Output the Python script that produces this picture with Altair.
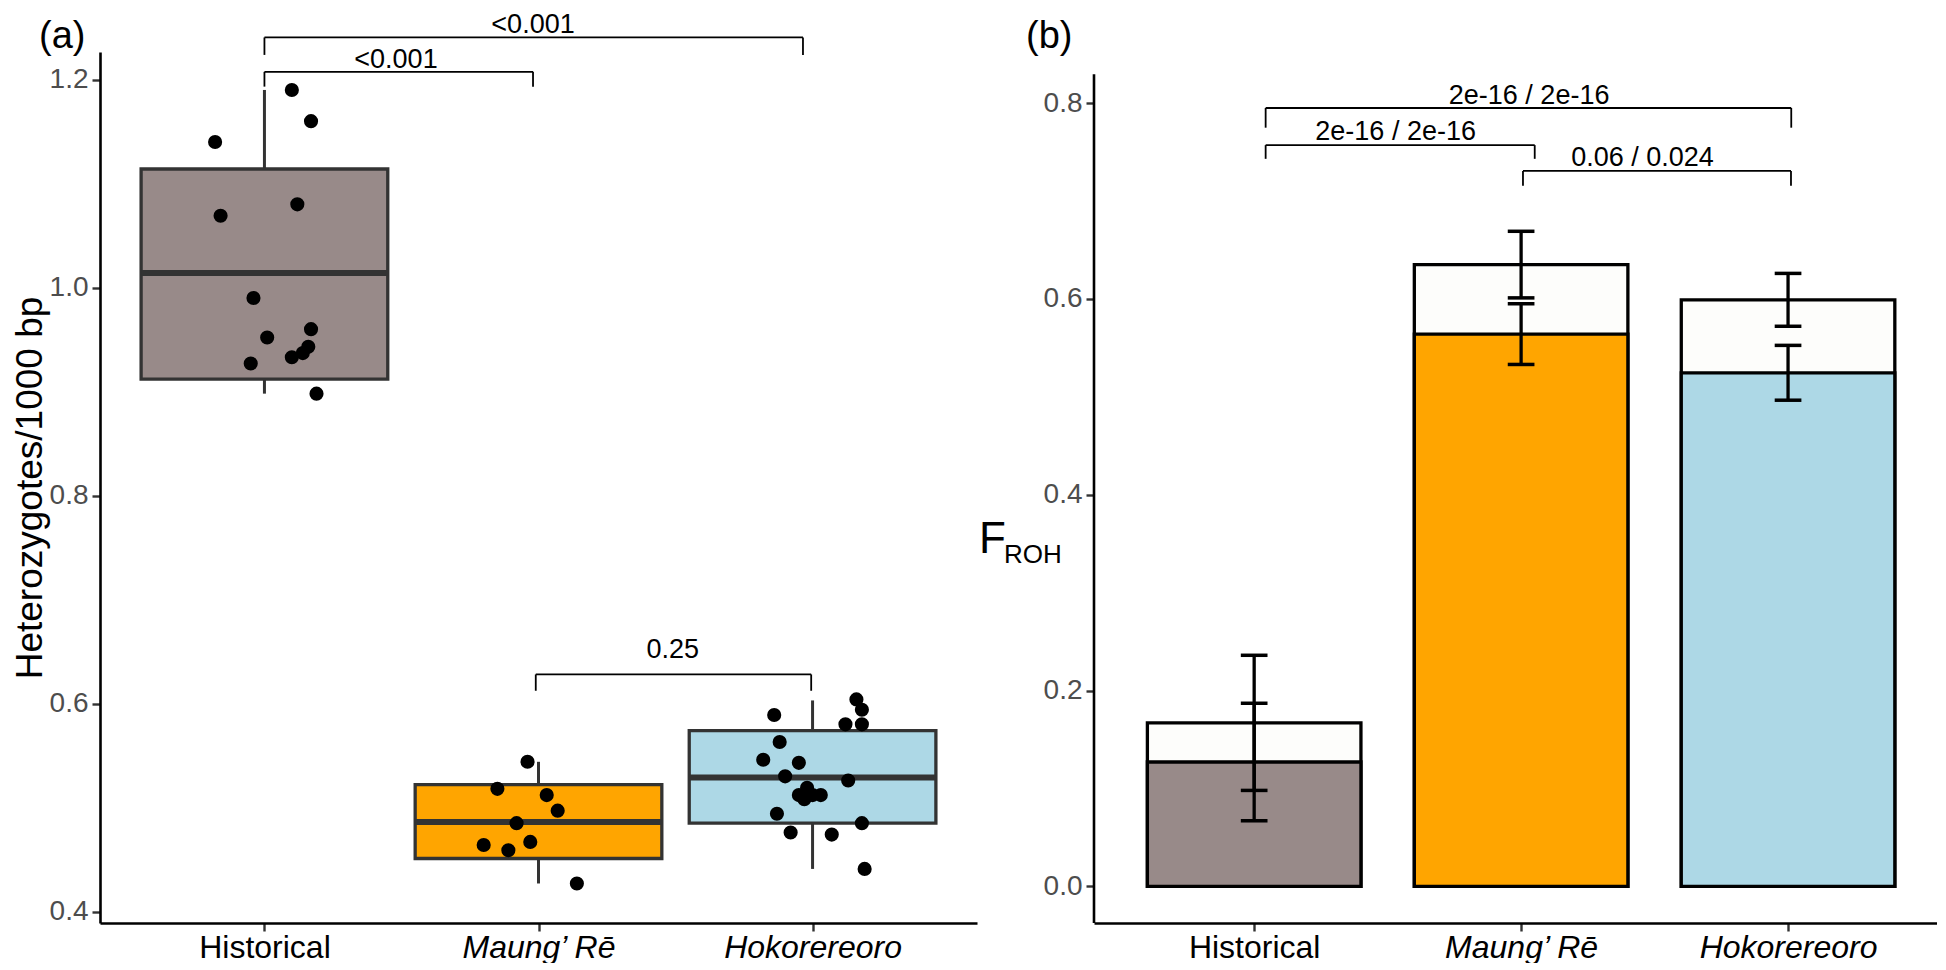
import json
import altair as alt
import pandas as pd

FONT = "Liberation Sans"

# ---------------- shared categories ----------------
groups = ["Historical", "Maung’ Rē", "Hokorereoro"]
fill_colors = ["#988A89", "#FFA500", "#ADD8E6"]
positions = list(range(1, len(groups) + 1))

# ---------------- panel (a): heterozygosity ----------------
box_lower_whisker = [0.898, 0.427, 0.441]
box_q1 = [0.912, 0.451, 0.485]
box_median = [1.014, 0.486, 0.529]
box_q3 = [1.114, 0.522, 0.574]
box_upper_whisker = [1.190, 0.544, 0.603]

hist_het = [1.190, 1.160, 1.140, 1.080, 1.069, 0.990, 0.960, 0.952, 0.943, 0.937, 0.933, 0.927, 0.898]
hist_jitter = [0.10, 0.17, -0.18, 0.12, -0.16, -0.04, 0.17, 0.01, 0.16, 0.14, 0.10, -0.05, 0.19]
maung_het = [0.544, 0.518, 0.512, 0.497, 0.485, 0.467, 0.464, 0.459, 0.427]
maung_jitter = [-0.04, -0.15, 0.03, 0.07, -0.08, -0.03, -0.20, -0.11, 0.14]
hoko_het = [0.604, 0.594, 0.589, 0.580, 0.580, 0.563, 0.546, 0.543, 0.530, 0.526,
            0.519, 0.512, 0.508, 0.512, 0.512, 0.494, 0.485, 0.476, 0.474, 0.441]
hoko_jitter = [0.16, 0.18, -0.14, 0.12, 0.18, -0.12, -0.18, -0.05, -0.10, 0.13,
               -0.02, -0.05, -0.03, 0.00, 0.03, -0.13, 0.18, -0.08, 0.07, 0.19]

a_br_label = ["<0.001", "<0.001", "0.25"]
a_br_from = [1.0, 1.0, 1.99]
a_br_to = [1.98, 2.965, 2.995]
a_br_y = [1.2074, 1.2405, 0.628]
a_br_tip = [1.1932, 1.2237, 0.6123]
a_lab_x = [1.48, 1.98, 2.49]
a_lab_y = [1.2112, 1.2443, 0.644]

a_yticks = [0.4, 0.6, 0.8, 1.0, 1.2]
a_ydomain = [0.389, 1.2265]

# ---------------- panel (b): F_ROH ----------------
froh_total = [0.167, 0.635, 0.599]
froh_total_err = [0.069, 0.034, 0.027]
froh_part = [0.127, 0.564, 0.5245]
froh_part_err = [0.060, 0.031, 0.028]

b_br_label = ["2e-16 / 2e-16", "2e-16 / 2e-16", "0.06 / 0.024"]
b_br_from = [1.043, 1.043, 2.007]
b_br_to = [3.012, 2.051, 3.011]
b_br_y = [0.7949, 0.757, 0.7306]
b_br_tip = [0.7748, 0.743, 0.7156]
b_lab_x = [2.03, 1.53, 2.455]
b_lab_y = [0.7992, 0.7624, 0.7356]

b_yticks = [0.0, 0.2, 0.4, 0.6, 0.8]
b_ydomain = [-0.0374, 0.8521]
b_axis_top = 0.8294

panel_tags = ["(a)", "(b)"]

# ---------------- helpers ----------------
label_expr = json.dumps(groups, ensure_ascii=False) + "[datum.value - 1]"
italic_cond = {"condition": {"test": "datum.value > 1", "value": "italic"}, "value": "normal"}


def x_axis():
    return alt.Axis(values=positions, labelExpr=label_expr, title=None, grid=False,
                    domain=True, domainColor="black", domainWidth=2.6,
                    ticks=True, tickColor="#333333", tickWidth=2.4, tickSize=8,
                    labelFontSize=32, labelColor="black", labelFont=FONT,
                    labelPadding=1, labelFontStyle=italic_cond, labelAngle=0)


def y_axis(values, title, domain):
    kw = dict(values=values, format=".1f", grid=False, domain=domain,
              domainColor="black", domainWidth=2.6, tickColor="#333333",
              tickWidth=2.4, tickSize=8, labelFontSize=28, labelColor="#4D4D4D",
              labelPadding=4, labelFont=FONT)
    if title:
        kw.update(title=title, titleFontSize=37, titleFont=FONT, titleColor="black",
                  titleFontWeight="normal", titlePadding=0)
    else:
        kw.update(title=None)
    return alt.Axis(**kw)


def bracket_df(x1s, x2s, ys, tips):
    rows = []
    for x1, x2, y, t in zip(x1s, x2s, ys, tips):
        rows.append(dict(x=x1, x2=x2, y=y, y2=y))
        rows.append(dict(x=x1, x2=x1, y=y, y2=t))
        rows.append(dict(x=x2, x2=x2, y=y, y2=t))
    return pd.DataFrame(rows)


def tag_layer(tag, dx):
    return alt.Chart(pd.DataFrame({"t": [tag]})).mark_text(
        fontSize=38, font=FONT, color="black", align="left", baseline="alphabetic").encode(
        text="t:N", x=alt.value(dx), y=alt.value(-4))


fill_scale = alt.Scale(domain=groups, range=fill_colors)

# ---------------- panel (a) ----------------
XA = alt.Scale(domain=[0.4, 3.6], nice=False, zero=False)
YA = alt.Scale(domain=a_ydomain, nice=False, zero=False)
xa_axis = x_axis()
ya_axis = y_axis(a_yticks, "Heterozygotes/1000 bp", True)

box_df = pd.DataFrame({
    "pos": positions, "group": groups, "lo": box_lower_whisker, "q1": box_q1,
    "med": box_median, "q3": box_q3, "hi": box_upper_whisker,
})

pts = []
for p, vals, jit in zip(positions, [hist_het, maung_het, hoko_het],
                        [hist_jitter, maung_jitter, hoko_jitter]):
    for v, j in zip(vals, jit):
        pts.append(dict(pos=p, jit=j, het=v))
pts_df = pd.DataFrame(pts)

base_box = alt.Chart(box_df).transform_calculate(
    left="datum.pos - 0.45", right="datum.pos + 0.45")

whisk_up = base_box.mark_rule(color="#333333", strokeWidth=3).encode(
    x=alt.X("pos:Q", scale=XA, axis=xa_axis),
    y=alt.Y("q3:Q", scale=YA, axis=ya_axis), y2="hi:Q")
whisk_lo = base_box.mark_rule(color="#333333", strokeWidth=3).encode(
    x=alt.X("pos:Q", scale=XA, axis=xa_axis),
    y=alt.Y("lo:Q", scale=YA, axis=ya_axis), y2="q1:Q")
boxes = base_box.mark_rect(stroke="#333333", strokeWidth=3.3).encode(
    x=alt.X("left:Q", scale=XA, axis=xa_axis), x2="right:Q",
    y=alt.Y("q1:Q", scale=YA, axis=ya_axis), y2="q3:Q",
    fill=alt.Fill("group:N", scale=fill_scale, legend=None))
medians = base_box.mark_rule(color="#333333", strokeWidth=6).encode(
    x=alt.X("left:Q", scale=XA, axis=xa_axis), x2="right:Q",
    y=alt.Y("med:Q", scale=YA, axis=ya_axis))
points = alt.Chart(pts_df).transform_calculate(px="datum.pos + datum.jit").mark_circle(
    size=200, color="black", opacity=1).encode(
    x=alt.X("px:Q", scale=XA, axis=xa_axis),
    y=alt.Y("het:Q", scale=YA, axis=ya_axis))

a_seg = alt.Chart(bracket_df(a_br_from, a_br_to, a_br_y, a_br_tip)).mark_rule(
    color="black", strokeWidth=1.8).encode(
    x=alt.X("x:Q", scale=XA, axis=xa_axis), x2="x2:Q",
    y=alt.Y("y:Q", scale=YA, axis=ya_axis), y2="y2:Q")
a_txt = alt.Chart(pd.DataFrame({"x": a_lab_x, "y": a_lab_y, "t": a_br_label})).mark_text(
    fontSize=27, font=FONT, color="black", align="center", baseline="alphabetic").encode(
    x=alt.X("x:Q", scale=XA, axis=xa_axis),
    y=alt.Y("y:Q", scale=YA, axis=ya_axis), text="t:N")

panel_a = alt.layer(whisk_up, whisk_lo, boxes, medians, points, a_seg, a_txt,
                    tag_layer(panel_tags[0], -61)).properties(width=877, height=871)

# ---------------- panel (b) ----------------
XB = alt.Scale(domain=[0.4, 3.558], nice=False, zero=False)
YB = alt.Scale(domain=b_ydomain, nice=False, zero=False)
xb_axis = x_axis()
yb_axis = y_axis(b_yticks, None, False)

bar_df = pd.DataFrame({"pos": positions, "group": groups,
                       "total": froh_total, "part": froh_part})
bar_base = alt.Chart(bar_df).transform_calculate(
    left="datum.pos - 0.4", right="datum.pos + 0.4", zero="0")

total_bars = bar_base.mark_rect(fill="#FDFDFB", stroke="black", strokeWidth=3.3).encode(
    x=alt.X("left:Q", scale=XB, axis=xb_axis), x2="right:Q",
    y=alt.Y("zero:Q", scale=YB, axis=yb_axis), y2="total:Q")
part_bars = bar_base.mark_rect(stroke="black", strokeWidth=3.3).encode(
    x=alt.X("left:Q", scale=XB, axis=xb_axis), x2="right:Q",
    y=alt.Y("zero:Q", scale=YB, axis=yb_axis), y2="part:Q",
    fill=alt.Fill("group:N", scale=fill_scale, legend=None))

err_rows = []
for p, c, e in zip(positions, froh_total, froh_total_err):
    err_rows.append(dict(pos=p, center=c, err=e))
for p, c, e in zip(positions, froh_part, froh_part_err):
    err_rows.append(dict(pos=p, center=c, err=e))
err_base = alt.Chart(pd.DataFrame(err_rows)).transform_calculate(
    lo="datum.center - datum.err", hi="datum.center + datum.err",
    cl="datum.pos - 0.05", cr="datum.pos + 0.05")
err_v = err_base.mark_rule(color="black", strokeWidth=3.3).encode(
    x=alt.X("pos:Q", scale=XB, axis=xb_axis),
    y=alt.Y("lo:Q", scale=YB, axis=yb_axis), y2="hi:Q")
err_top = err_base.mark_rule(color="black", strokeWidth=3.5).encode(
    x=alt.X("cl:Q", scale=XB, axis=xb_axis), x2="cr:Q",
    y=alt.Y("hi:Q", scale=YB, axis=yb_axis))
err_bot = err_base.mark_rule(color="black", strokeWidth=3.5).encode(
    x=alt.X("cl:Q", scale=XB, axis=xb_axis), x2="cr:Q",
    y=alt.Y("lo:Q", scale=YB, axis=yb_axis))

b_seg = alt.Chart(bracket_df(b_br_from, b_br_to, b_br_y, b_br_tip)).mark_rule(
    color="black", strokeWidth=1.8).encode(
    x=alt.X("x:Q", scale=XB, axis=xb_axis), x2="x2:Q",
    y=alt.Y("y:Q", scale=YB, axis=yb_axis), y2="y2:Q")
b_txt = alt.Chart(pd.DataFrame({"x": b_lab_x, "y": b_lab_y, "t": b_br_label})).mark_text(
    fontSize=27, font=FONT, color="black", align="center", baseline="alphabetic").encode(
    x=alt.X("x:Q", scale=XB, axis=xb_axis),
    y=alt.Y("y:Q", scale=YB, axis=yb_axis), text="t:N")

b_axis_line = alt.Chart(pd.DataFrame({"lo": [b_ydomain[0]], "hi": [b_axis_top]})).mark_rule(
    color="black", strokeWidth=2.6).encode(
    x=alt.value(0), y=alt.Y("lo:Q", scale=YB, axis=yb_axis), y2="hi:Q")

f_main = alt.Chart(pd.DataFrame({"t": ["F"]})).mark_text(
    fontSize=44, font=FONT, color="black", align="left", baseline="alphabetic").encode(
    text="t:N", x=alt.value(-115), y=alt.value(501))
f_sub = alt.Chart(pd.DataFrame({"t": ["ROH"]})).mark_text(
    fontSize=26, font=FONT, color="black", align="left", baseline="alphabetic").encode(
    text="t:N", x=alt.value(-90), y=alt.value(511))

panel_b = alt.layer(total_bars, part_bars, err_v, err_top, err_bot, b_seg, b_txt,
                    b_axis_line, f_main, f_sub,
                    tag_layer(panel_tags[1], -68)).properties(width=843, height=871)

chart = alt.hconcat(panel_a, panel_b, spacing=117, bounds="flush").properties(
    padding={"left": 3, "top": 3, "right": 0, "bottom": 0}, background="white"
).configure_view(strokeWidth=0)

chart.save("out.html", embed_options={"renderer": "svg", "actions": False})
